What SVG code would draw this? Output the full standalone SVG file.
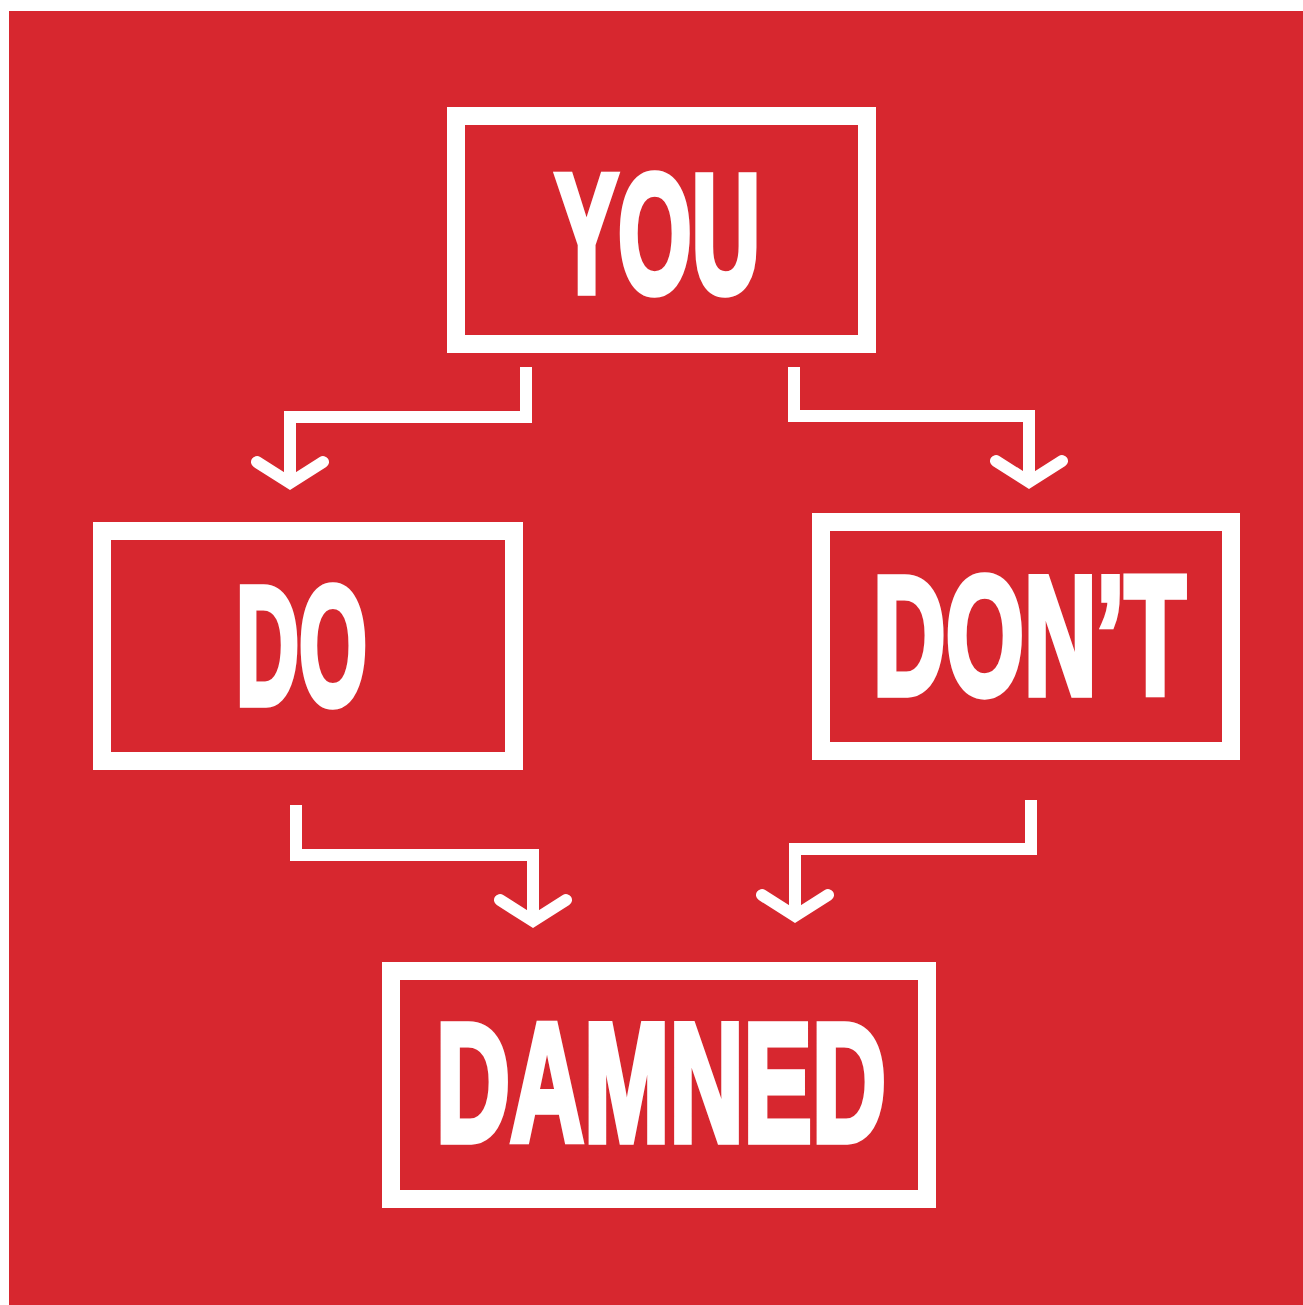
<svg xmlns="http://www.w3.org/2000/svg" width="1303" height="1305" viewBox="0 0 1303 1305">
<style>
.box{fill:none;stroke:#ffffff;stroke-width:18;stroke-linejoin:miter}
.lbl{font-family:"Liberation Sans",Arial,sans-serif;font-weight:bold;font-size:169px;fill:#ffffff;stroke:#ffffff;stroke-width:6;stroke-linejoin:miter;text-anchor:middle;vector-effect:non-scaling-stroke}
.conn{fill:none;stroke:#ffffff;stroke-width:12;stroke-linejoin:miter;stroke-linecap:butt}
.head{fill:none;stroke:#ffffff;stroke-width:12;stroke-linejoin:miter;stroke-linecap:round}
</style>
<rect x="0" y="0" width="1303" height="1305" fill="#ffffff"/>
<rect x="9" y="11" width="1294" height="1294" fill="#d7272f"/>
<g id="connectors">
<path class="conn" d="M526,367 V417 H290 V483"/>
<path class="head" d="M257,462 L290,483 L323,462"/>
<path class="conn" d="M794,367 V416 H1029 V482"/>
<path class="head" d="M996,461 L1029,482 L1062,461"/>
<path class="conn" d="M296,805 V855 H533 V921"/>
<path class="head" d="M500,900 L533,921 L566,900"/>
<path class="conn" d="M1031,800 V849 H795 V916"/>
<path class="head" d="M762,895 L795,916 L828,895"/>
</g>
<g id="node-you">
<rect class="box" x="456" y="116" width="411" height="228"/>
<text class="lbl" transform="translate(657.5,292) scale(0.56,1)" x="0" y="0">YOU</text>
</g>
<g id="node-do">
<rect class="box" x="102" y="531" width="412" height="230"/>
<text class="lbl" transform="translate(301.5,704) scale(0.517,1)" x="0" y="0">DO</text>
</g>
<g id="node-dont">
<rect class="box" x="821" y="522" width="410" height="229"/>
<text class="lbl" transform="translate(1029.5,694) scale(0.595,1)" x="0" y="0">DON’T</text>
</g>
<g id="node-damned">
<rect class="box" x="391" y="971" width="536" height="228"/>
<text class="lbl" transform="translate(661,1141) scale(0.607,1)" x="0" y="0">DAMNED</text>
</g>
</svg>
